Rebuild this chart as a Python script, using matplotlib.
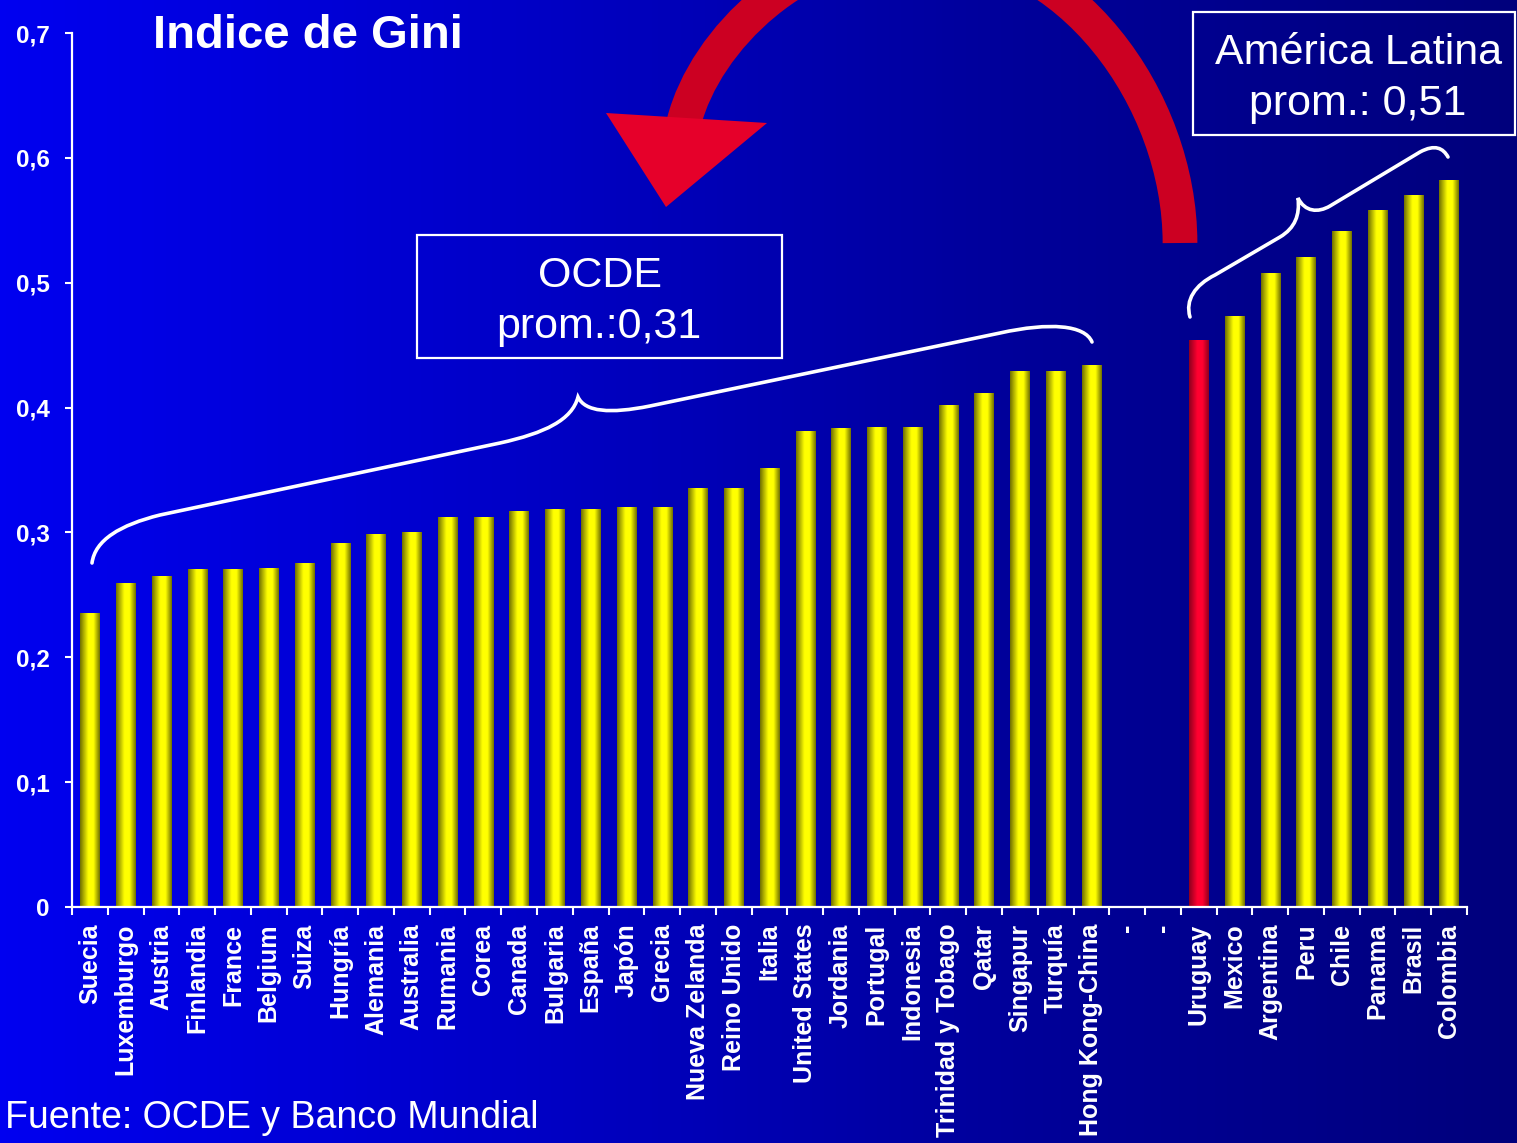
import numpy as np
import matplotlib
matplotlib.use("Agg")
import matplotlib.pyplot as plt
from matplotlib.colors import LinearSegmentedColormap
from matplotlib.patches import Rectangle, PathPatch, Polygon
from matplotlib.path import Path

plt.rcParams['font.family'] = ['Liberation Sans', 'DejaVu Sans']

# datos: índice de Gini por país
paises = ['Suecia', 'Luxemburgo', 'Austria', 'Finlandia', 'France', 'Belgium',
          'Suiza', 'Hungría', 'Alemania', 'Australia', 'Rumania', 'Corea',
          'Canada', 'Bulgaria', 'España', 'Japón', 'Grecia', 'Nueva Zelanda',
          'Reino Unido', 'Italia', 'United States', 'Jordania', 'Portugal',
          'Indonesia', 'Trinidad y Tobago', 'Qatar', 'Singapur', 'Turquía',
          'Hong Kong-China', '-', '-', 'Uruguay', 'Mexico', 'Argentina',
          'Peru', 'Chile', 'Panama', 'Brasil', 'Colombia']
gini = [0.235, 0.259, 0.265, 0.270, 0.270, 0.271, 0.275, 0.291, 0.298, 0.300,
        0.312, 0.312, 0.317, 0.318, 0.318, 0.320, 0.320, 0.335, 0.335, 0.351,
        0.381, 0.383, 0.384, 0.384, 0.402, 0.411, 0.429, 0.429, 0.434, 0.0,
        0.0, 0.454, 0.473, 0.507, 0.520, 0.541, 0.558, 0.570, 0.582]
destacado = 'Uruguay'
yticks = [0, 0.1, 0.2, 0.3, 0.4, 0.5, 0.6, 0.7]
ytick_labels = ['0', '0,1', '0,2', '0,3', '0,4', '0,5', '0,6', '0,7']

W, H = 1517, 1143
fig = plt.figure(figsize=(W / 100, H / 100), dpi=100)

# fondo degradado azul
ax_bg = fig.add_axes([0, 0, 1, 1], zorder=0)
grad = np.linspace(0, 1, 256)[None, :]
bg_cmap = LinearSegmentedColormap.from_list('bg', ['#0000F0', '#0000C8', '#00009A', '#00007C'])
ax_bg.imshow(grad, cmap=bg_cmap, aspect='auto', extent=(0, 1, 0, 1))
ax_bg.set_axis_off()

# grafico principal
ax = fig.add_axes([72 / W, 1 - 907 / H, (1467 - 72) / W, (907 - 33) / H], zorder=2)
ax.patch.set_alpha(0)
x = np.arange(len(paises))
ancho = 0.54
ax.set_xlim(-0.5, len(paises) - 0.5)
ax.set_ylim(0, 0.7)
ax.set_autoscale_on(False)

amarillo = LinearSegmentedColormap.from_list('am', [(0, '#6E6E00'), (0.42, '#FFFF00'), (0.68, '#FFFF00'), (1, '#6E6E00')])
rojo = LinearSegmentedColormap.from_list('ro', [(0, '#8C001E'), (0.42, '#FF0030'), (0.68, '#FF0030'), (1, '#8C001E')])
for xi, (p, v) in enumerate(zip(paises, gini)):
    if v <= 0:
        continue
    cm = rojo if p == destacado else amarillo
    ax.imshow(grad, cmap=cm, aspect='auto', interpolation='bilinear',
              extent=(xi - ancho / 2, xi + ancho / 2, 0, v), zorder=3)

for s in ['top', 'right']:
    ax.spines[s].set_visible(False)
for s in ['left', 'bottom']:
    ax.spines[s].set_color('white')
    ax.spines[s].set_linewidth(1.6)
    ax.spines[s].set_zorder(4)

ax.set_yticks(yticks)
ax.set_yticklabels(ytick_labels, color='white', fontsize=17.5, fontweight='bold')
ax.tick_params(axis='y', colors='white', length=5, width=1.5, pad=11)

ax.set_xticks(x)
ax.set_xticklabels(paises, rotation=90, color='white', fontsize=18,
                   fontweight='bold', va='top', ha='center')
ax.tick_params(axis='x', which='major', length=0, pad=12)
ax.set_xticks(np.arange(-0.5, len(paises)), minor=True)
ax.tick_params(axis='x', which='minor', colors='white', length=6, width=1.5)

# capa de anotaciones en pixeles
ov = fig.add_axes([0, 0, 1, 1], zorder=5)
ov.set_xlim(0, W)
ov.set_ylim(H, 0)
ov.set_axis_off()
ov.patch.set_alpha(0)

# flecha roja curva
arco = Path([(1180, 243), (1180, 100), (1070, -55), (920, -55),
             (800, -55), (705, 40), (684, 122)],
            [Path.MOVETO, Path.CURVE4, Path.CURVE4, Path.CURVE4,
             Path.CURVE4, Path.CURVE4, Path.CURVE4])
ov.add_patch(PathPatch(arco, fill=False, edgecolor='#CC0022', lw=25, capstyle='butt'))
ov.add_patch(Polygon([(606, 113), (767, 123), (666, 207)], closed=True,
                     facecolor='#E6002A', edgecolor='none'))

# llaves
llave_ocde = Path([(92, 563), (95, 540), (120, 525), (160, 515), (500, 443),
                   (545, 433), (572, 420), (578, 397),
                   (585, 412), (610, 414), (650, 406), (1000, 333),
                   (1050, 322), (1085, 325), (1092, 342)],
                  [Path.MOVETO, Path.CURVE4, Path.CURVE4, Path.CURVE4, Path.LINETO,
                   Path.CURVE4, Path.CURVE4, Path.CURVE4,
                   Path.CURVE4, Path.CURVE4, Path.CURVE4, Path.LINETO,
                   Path.CURVE4, Path.CURVE4, Path.CURVE4])
llave_al = Path([(1190, 317), (1185, 300), (1195, 285), (1215, 275), (1280, 237),
                 (1295, 228), (1300, 215), (1298, 198),
                 (1305, 212), (1318, 213), (1330, 206), (1420, 152),
                 (1435, 144), (1443, 148), (1448, 157)],
                [Path.MOVETO, Path.CURVE4, Path.CURVE4, Path.CURVE4, Path.LINETO,
                 Path.CURVE4, Path.CURVE4, Path.CURVE4,
                 Path.CURVE4, Path.CURVE4, Path.CURVE4, Path.LINETO,
                 Path.CURVE4, Path.CURVE4, Path.CURVE4])
for ll in [llave_ocde, llave_al]:
    ov.add_patch(PathPatch(ll, fill=False, edgecolor='white', lw=2.6, capstyle='round'))

# cuadros de texto
ov.add_patch(Rectangle((417, 235), 365, 123, fill=False, edgecolor='white', lw=1.6))
ov.text(600, 276, 'OCDE', color='white', fontsize=31, ha='center', va='center')
ov.text(599, 327, 'prom.:0,31', color='white', fontsize=31, ha='center', va='center')
ov.add_patch(Rectangle((1193, 12), 322, 123, fill=False, edgecolor='white', lw=1.6))
ov.text(1359, 53, 'América Latina', color='white', fontsize=31, ha='center', va='center')
ov.text(1358, 104, 'prom.: 0,51', color='white', fontsize=31, ha='center', va='center')

ov.text(153, 36, 'Indice de Gini', color='white', fontsize=34, fontweight='bold',
        ha='left', va='center')
ov.text(5, 1118, 'Fuente: OCDE y Banco Mundial', color='white', fontsize=27,
        ha='left', va='center')

fig.savefig('out.png', dpi=100)
